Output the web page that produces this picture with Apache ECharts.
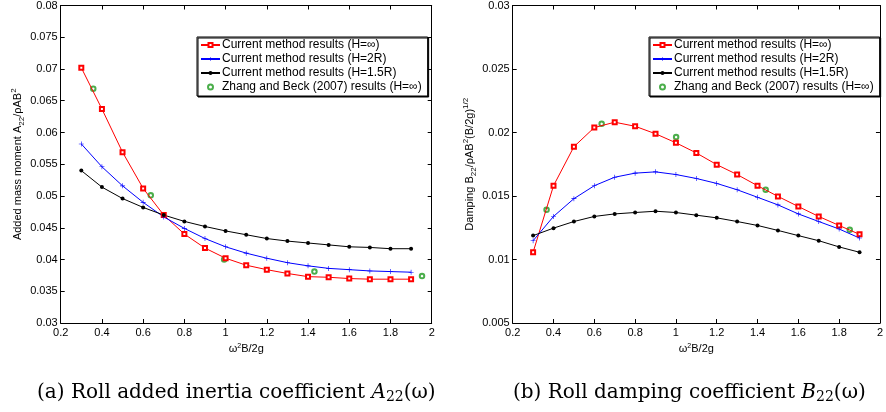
<!DOCTYPE html>
<html><head><meta charset="utf-8">
<script src="https://cdn.jsdelivr.net/npm/echarts@6/dist/echarts.min.js"></script>
<style>html,body{margin:0;padding:0;background:#fff}#c{width:886px;height:412px}</style>
</head><body><div id="c"></div>
<script>
// ---- data ----
var freq = [0.3,0.4,0.5,0.6,0.7,0.8,0.9,1.0,1.1,1.2,1.3,1.4,1.5,1.6,1.7,1.8,1.9];
var xTicks = [0.2,0.4,0.6,0.8,1,1.2,1.4,1.6,1.8,2];
var names = ['Current method results (H=\u221e)','Current method results (H=2R)','Current method results (H=1.5R)','Zhang and Beck (2007) results (H=\u221e)'];

// (a) added mass
var aInf  = [0.0702,0.0637,0.0569,0.0512,0.0470,0.0440,0.0418,0.0402,0.0391,0.0384,0.0378,0.0373,0.0372,0.0370,0.0369,0.0369,0.0369];
var a2R   = [0.0582,0.0546,0.0516,0.0490,0.0467,0.0449,0.0433,0.0420,0.0410,0.0402,0.0395,0.0390,0.0386,0.0384,0.0382,0.0381,0.0380];
var a15R  = [0.0540,0.0514,0.0496,0.0482,0.0470,0.0460,0.0452,0.0445,0.0439,0.0433,0.0429,0.0426,0.0423,0.0420,0.0419,0.0417,0.0417];
var aZhX  = [0.358,0.637,0.993,1.431,1.953];
var aZhY  = [0.0669,0.0501,0.0400,0.0381,0.0374];

// (b) damping
var bInf  = [0.01057,0.01581,0.01888,0.02039,0.02081,0.02049,0.01990,0.01919,0.01839,0.01747,0.01669,0.01581,0.01497,0.01417,0.01339,0.01268,0.01198];
var b2R   = [0.01148,0.01339,0.01479,0.01581,0.01648,0.01680,0.01690,0.01669,0.01638,0.01599,0.01549,0.01490,0.01430,0.01359,0.01299,0.01240,0.01169];
var b15R  = [0.01188,0.01247,0.01299,0.01339,0.01359,0.01370,0.01380,0.01370,0.01349,0.01328,0.01299,0.01268,0.01229,0.01188,0.01148,0.01099,0.01057];
var bZhX  = [0.366,0.636,1.001,1.440,1.852];
var bZhY  = [0.01391,0.02068,0.01964,0.01549,0.01234];

function pairs(xs, ys){ return xs.map(function(x,i){ return [x, ys[i]]; }); }

var plusPath = 'path://M4.4,0H5.6V4.4H10V5.6H5.6V10H4.4V5.6H0V4.4H4.4Z';
var FONT = 'Liberation Sans';
var SERIF = 'DejaVu Serif';

function fmt(v){ return String(+v.toFixed(4)); }

function xAxes(gi){
  return [{
    gridIndex: gi, type:'value', min:0.2, max:2, interval:0.2,
    name:'\u03c9{sup|2}B/2g', nameLocation:'middle', nameGap:20,
    nameTextStyle:{fontFamily:FONT, fontSize:11, color:'#000', rich:{sup:{fontSize:7, verticalAlign:'top', lineHeight:7}}},
    axisLine:{lineStyle:{color:'#000', width:1}},
    axisTick:{inside:true, length:4, lineStyle:{color:'#000'}},
    axisLabel:{fontFamily:FONT, fontSize:11, color:'#000', margin:4, formatter:fmt},
    splitLine:{show:false}
  },{
    gridIndex: gi, type:'value', min:0.2, max:2, interval:0.2, position:'top',
    axisLine:{lineStyle:{color:'#000', width:1}},
    axisTick:{inside:true, length:4, lineStyle:{color:'#000'}},
    axisLabel:{show:false}, splitLine:{show:false}
  }];
}
function yAxes(gi, mn, mx, nameStr){
  return [{
    gridIndex: gi, type:'value', min:mn, max:mx, interval:0.005,
    name:nameStr, nameLocation:'middle', nameGap:32, nameRotate:90,
    nameTextStyle:{fontFamily:FONT, fontSize:11, color:'#000',
      rich:{ n:{fontFamily:FONT, fontSize:11, lineHeight:16, color:'#000'},
             sub:{fontFamily:FONT, fontSize:8, lineHeight:8, verticalAlign:'bottom', color:'#000'},
             sup:{fontFamily:FONT, fontSize:8, lineHeight:8, verticalAlign:'top', color:'#000'} }},
    axisLine:{lineStyle:{color:'#000', width:1}},
    axisTick:{inside:true, length:4, lineStyle:{color:'#000'}},
    axisLabel:{fontFamily:FONT, fontSize:11, color:'#000', margin:3, formatter:fmt},
    splitLine:{show:false}
  },{
    gridIndex: gi, type:'value', min:mn, max:mx, interval:0.005, position:'right',
    axisLine:{lineStyle:{color:'#000', width:1}},
    axisTick:{inside:true, length:4, lineStyle:{color:'#000'}},
    axisLabel:{show:false}, splitLine:{show:false}
  }];
}

function seriesFor(xi, yi, inf, r2, r15, zx, zy){
  return [
    {name:names[0], type:'line', xAxisIndex:xi, yAxisIndex:yi, data:pairs(freq,inf),
     symbol:'emptyRect', symbolSize:4, showAllSymbol:true,
     lineStyle:{color:'#ff0000', width:1}, itemStyle:{color:'#ff0000', borderColor:'#ff0000', borderWidth:1}},
    {name:names[1], type:'line', xAxisIndex:xi, yAxisIndex:yi, data:pairs(freq,r2),
     symbol:plusPath, symbolSize:5, showAllSymbol:true,
     lineStyle:{color:'#0000ff', width:1}, itemStyle:{color:'#0000ff', borderWidth:0}},
    {name:names[2], type:'line', xAxisIndex:xi, yAxisIndex:yi, data:pairs(freq,r15),
     symbol:'circle', symbolSize:4, showAllSymbol:true,
     lineStyle:{color:'#000000', width:1}, itemStyle:{color:'#000000', borderWidth:0}},
    {name:names[3], type:'scatter', xAxisIndex:xi, yAxisIndex:yi, data:pairs(zx,zy),
     symbol:'emptyCircle', symbolSize:4.5,
     itemStyle:{color:'#1e9a1e', borderColor:'#1e9a1e', borderWidth:1}}
  ];
}

function legendAt(left){
  return {
    left:left, top:37, orient:'vertical', data:names,
    backgroundColor:'#fff', borderColor:'#000', borderWidth:1,
    shadowColor:'#000', shadowOffsetX:1, shadowOffsetY:1, shadowBlur:0,
    padding:[2,6,3,3], itemWidth:19, itemHeight:5, itemGap:2,
    itemStyle:{borderWidth:1},
    textStyle:{fontFamily:FONT, fontSize:12, color:'#000', lineHeight:12, padding:[0,0,0,-3]},
    selectedMode:false
  };
}

var chart = echarts.init(document.getElementById('c'), null, {renderer:'canvas'});
var xa = xAxes(0).concat(xAxes(1));
var ya = yAxes(0, 0.03, 0.08, '{n|Added mass moment A}{sub|22}{n|/\u03c1AB}{sup|2}')
  .concat(yAxes(1, 0.005, 0.03, '{n|Damping B}{sub|22}{n|/\u03c1AB}{sup|2}{n|(B/2g)}{sup|1/2}'));

var capRich = {t:{fontFamily:SERIF, fontSize:20, lineHeight:22, color:'#000'},
               i:{fontFamily:SERIF, fontStyle:'italic', fontSize:20, lineHeight:22, color:'#000'},
               s:{fontFamily:SERIF, fontSize:14, lineHeight:14, verticalAlign:'bottom', color:'#000'}};
chart.setOption({
  animation:false,
  backgroundColor:'#fff',
  grid:[
    {left:60.7, right:454.3, top:3, bottom:89},
    {left:512.7, right:2, top:3, bottom:89}
  ],
  xAxis: xa,
  yAxis: ya,
  legend:[legendAt(197), legendAt(649)],
  series: seriesFor(0,0,aInf,a2R,a15R,aZhX,aZhY).concat(seriesFor(2,2,bInf,b2R,b15R,bZhX,bZhY)),
  graphic:[
    {type:'text', left:37, top:383, style:{
      text:'{t|(a) Roll added inertia coefficient }{i|A}{s|22}{t|(\u03c9)}',
      fontFamily:SERIF, fontSize:20, fill:'#000', rich:capRich
    }},
    {type:'text', left:513, top:383, style:{
      text:'{t|(b) Roll damping coefficient }{i|B}{s|22}{t|(\u03c9)}',
      fontFamily:SERIF, fontSize:20, fill:'#000', rich:capRich
    }}
  ]
});
</script></body></html>
